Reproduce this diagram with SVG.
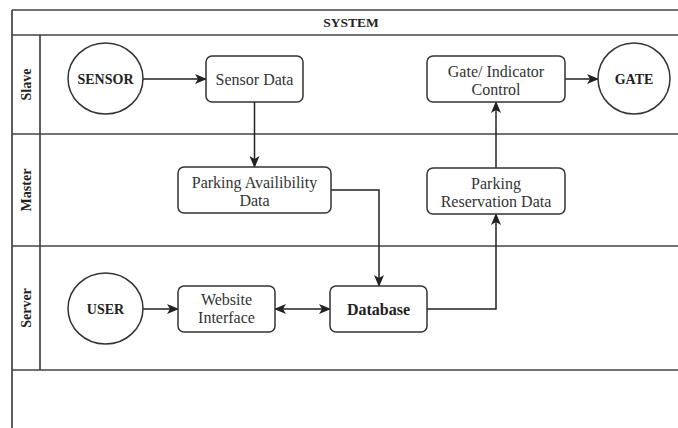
<svg xmlns="http://www.w3.org/2000/svg" width="678" height="428" viewBox="0 0 678 428">
<defs>
<marker id="arr" markerUnits="userSpaceOnUse" markerWidth="12" markerHeight="10" refX="11" refY="5" orient="auto-start-reverse" viewBox="0 0 12 10">
<path d="M0,0 L12,5 L0,10 L3,5 z" fill="#222"/>
</marker>
<style>
.pool{stroke:#444;stroke-width:1.7;fill:none}
.box{fill:#fff;stroke:#333;stroke-width:1.5}
.t{font-family:"Liberation Serif","DejaVu Serif",serif;font-size:16px;fill:#333;text-anchor:middle}
.b{font-family:"Liberation Serif","DejaVu Serif",serif;font-weight:bold;fill:#222;text-anchor:middle}
.c{stroke:#222;stroke-width:1.5;fill:none}
</style>
</defs>
<rect width="678" height="428" fill="#fff"/>
<g id="pool">
<path class="pool" d="M12,10 H678 M12,35 H678 M12,134 H678 M12,246 H678 M12,370 H678 M12,10 V428 M40,35 V370"/>
<text class="b" x="351" y="27" font-size="13.5">SYSTEM</text>
<text class="b" font-size="14" transform="translate(31,84.5) rotate(-90)">Slave</text>
<text class="b" font-size="14" transform="translate(31,190) rotate(-90)">Master</text>
<text class="b" font-size="14" transform="translate(31,308) rotate(-90)">Server</text>
</g>
<g id="connectors">
<path class="c" d="M143,79 L206,79" marker-end="url(#arr)"/>
<path class="c" d="M254.5,102 L254.5,167" marker-end="url(#arr)"/>
<path class="c" d="M331,190 L379,190 L379,286" marker-end="url(#arr)"/>
<path class="c" d="M143,309 L178,309" marker-end="url(#arr)"/>
<path class="c" d="M275,309 L330,309" marker-start="url(#arr)" marker-end="url(#arr)"/>
<path class="c" d="M427,309 L496,309 L496,214" marker-end="url(#arr)"/>
<path class="c" d="M496,168 L496,102" marker-end="url(#arr)"/>
<path class="c" d="M565,79 L598,79" marker-end="url(#arr)"/>
</g>
<g id="sensor">
<ellipse class="box" cx="105.5" cy="78.5" rx="37.5" ry="35.5"/>
<text class="b" x="105.5" y="84" font-size="14">SENSOR</text>
</g>
<g id="sensor-data">
<rect class="box" x="206" y="56" width="97" height="46" rx="6"/>
<text class="t" x="254.5" y="84.5">Sensor Data</text>
</g>
<g id="gate-control">
<rect class="box" x="427" y="56" width="138" height="46" rx="6"/>
<text class="t" x="496" y="77">Gate/ Indicator</text>
<text class="t" x="496" y="95">Control</text>
</g>
<g id="gate">
<ellipse class="box" cx="634" cy="78.5" rx="36" ry="35.5"/>
<text class="b" x="634" y="84" font-size="14">GATE</text>
</g>
<g id="parking-availability">
<rect class="box" x="178" y="167" width="153" height="46" rx="6"/>
<text class="t" x="254.5" y="188">Parking Availibility</text>
<text class="t" x="254.5" y="206">Data</text>
</g>
<g id="parking-reservation">
<rect class="box" x="427" y="168" width="138" height="46" rx="6"/>
<text class="t" x="496" y="189">Parking</text>
<text class="t" x="496" y="207">Reservation Data</text>
</g>
<g id="user">
<ellipse class="box" cx="105.5" cy="308.5" rx="37.5" ry="35.5"/>
<text class="b" x="105.5" y="314" font-size="14">USER</text>
</g>
<g id="website">
<rect class="box" x="178" y="286" width="97" height="46" rx="6"/>
<text class="t" x="226.5" y="305">Website</text>
<text class="t" x="226.5" y="323">Interface</text>
</g>
<g id="database">
<rect class="box" x="330" y="286" width="97" height="46" rx="6"/>
<text class="b" x="378.5" y="314.5" font-size="16">Database</text>
</g>
</svg>
